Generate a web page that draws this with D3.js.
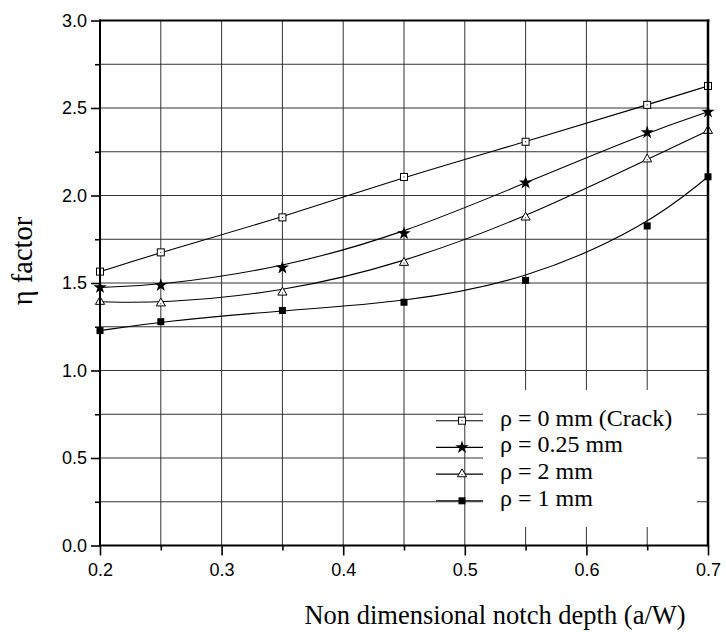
<!DOCTYPE html>
<html>
<head>
<meta charset="utf-8">
<script src="https://cdn.jsdelivr.net/npm/d3@7"></script>
<style>
  html, body { margin: 0; padding: 0; background: #fff; }
  svg { display: block; }
  .serif { font-family: "Liberation Serif", "Times New Roman", Times, serif; }
  .sans { font-family: "Liberation Sans", Arial, Helvetica, sans-serif; }
</style>
</head>
<body>
<svg id="chart" width="726" height="632"></svg>
<script>
// ---- data ----
const depth = [0.2, 0.25, 0.35, 0.45, 0.55, 0.65, 0.7];
const crack = [1.565, 1.675, 1.875, 2.106, 2.307, 2.518, 2.626];
const rho025 = [1.475, 1.487, 1.587, 1.784, 2.073, 2.36, 2.478];
const rho2 = [1.393, 1.384, 1.446, 1.616, 1.875, 2.207, 2.370];
const rho1 = [1.228, 1.279, 1.343, 1.39, 1.515, 1.826, 2.107];
const seriesNames = ["ρ = 0 mm (Crack)", "ρ = 0.25 mm", "ρ = 2 mm", "ρ = 1 mm"];
const seriesMarkers = ["openSquare", "star", "openTriangle", "filledSquare"];
const xTickLabels = ["0.2", "0.3", "0.4", "0.5", "0.6", "0.7"];
const yTickLabels = ["0.0", "0.5", "1.0", "1.5", "2.0", "2.5", "3.0"];
const xTitle = "Non dimensional notch depth (a/W)";
const yTitle = "η factor";

const seriesValues = [crack, rho025, rho2, rho1];

const svg = d3.select("#chart");
const L = 100, R = 708, T = 20.5, B = 545.5;
const x = d3.scaleLinear().domain([0.2, 0.7]).range([L, R]);
const y = d3.scaleLinear().domain([0, 3]).range([B, T]);

// grid
const grid = svg.append("g");
const xGrid = d3.range(0.25, 0.7, 0.05).map(v => +v.toFixed(2));
const yGrid = d3.range(0.25, 3.0, 0.25).map(v => +v.toFixed(2));
grid.selectAll("line.vx").data(xGrid).join("line")
  .attr("x1", d => x(d)).attr("x2", d => x(d))
  .attr("y1", T).attr("y2", B)
  .attr("stroke", "#333").attr("stroke-width", 1);
grid.selectAll("line.hy").data(yGrid).join("line")
  .attr("x1", L).attr("x2", R)
  .attr("y1", d => y(d)).attr("y2", d => y(d))
  .attr("stroke", "#333").attr("stroke-width", 1);

// legend background (covers grid)
svg.append("rect").attr("x", 483).attr("y", 390).attr("width", 214).attr("height", 137)
  .attr("fill", "#fff");

// curves (B-spline through the data points)
const line = d3.line().x(d => x(d[0])).y(d => y(d[1])).curve(d3.curveBasis);
seriesValues.forEach(vals => {
  svg.append("path")
    .attr("d", line(depth.map((d, i) => [d, vals[i]])))
    .attr("fill", "none").attr("stroke", "#000").attr("stroke-width", 1.1);
});

function drawMarker(g, type, cx, cy) {
  if (type === "openSquare") {
    g.append("rect").attr("x", cx - 3.5).attr("y", cy - 3.5).attr("width", 7).attr("height", 7)
      .attr("fill", "#fff").attr("stroke", "#000").attr("stroke-width", 1);
    g.append("rect").attr("x", cx - 0.5).attr("y", cy - 0.5).attr("width", 1).attr("height", 1).attr("fill", "#000");
  } else if (type === "filledSquare") {
    g.append("rect").attr("x", cx - 3.5).attr("y", cy - 3.5).attr("width", 7).attr("height", 7)
      .attr("fill", "#000");
  } else if (type === "openTriangle") {
    g.append("path").attr("d", d3.symbol(d3.symbolTriangle, 36)())
      .attr("transform", `translate(${cx},${cy})`)
      .attr("fill", "#fff").attr("stroke", "#000").attr("stroke-width", 1);
    g.append("rect").attr("x", cx - 0.5).attr("y", cy).attr("width", 1).attr("height", 1).attr("fill", "#000");
  } else if (type === "star") {
    g.append("path").attr("d", d3.symbol(d3.symbolStar, 55)())
      .attr("transform", `translate(${cx},${cy})`)
      .attr("fill", "#000");
  }
}

const markers = svg.append("g");
seriesValues.forEach((vals, si) => {
  depth.forEach((d, i) => drawMarker(markers, seriesMarkers[si], x(d), y(vals[i])));
});

// axes frame
const frame = svg.append("g").attr("stroke", "#000");
frame.append("line").attr("x1", L).attr("x2", L).attr("y1", T - 1).attr("y2", B + 1).attr("stroke-width", 2);
frame.append("line").attr("x1", L - 1).attr("x2", R + 1).attr("y1", B).attr("y2", B).attr("stroke-width", 2);
frame.append("line").attr("x1", L - 1).attr("x2", R + 1.5).attr("y1", T).attr("y2", T).attr("stroke-width", 2);
frame.append("line").attr("x1", R).attr("x2", R).attr("y1", T - 1).attr("y2", B + 1).attr("stroke-width", 2.5);

// y axis (ticks outward, left)
const yAxisMajor = d3.axisLeft(y).tickValues(yTickLabels.map(Number)).tickSize(9).tickSizeOuter(0)
  .tickFormat((d, i) => yTickLabels[i]).tickPadding(4);
const gy = svg.append("g").attr("transform", `translate(${L},0)`).call(yAxisMajor);
gy.attr("font-family", null).attr("font-size", null);
gy.select(".domain").remove();
gy.selectAll(".tick line").attr("stroke-width", 1.6);
gy.selectAll(".tick text").attr("class", "sans")
  .attr("font-size", 18).attr("fill", "#000");
const gyMinor = svg.append("g").attr("transform", `translate(${L},0)`)
  .call(d3.axisLeft(y).tickValues(d3.range(0.25, 3, 0.5)).tickSize(5).tickFormat(""));
gyMinor.select(".domain").remove();
gyMinor.selectAll(".tick line").attr("stroke-width", 1.6);

// x axis (ticks outward, bottom)
const xAxisMajor = d3.axisBottom(x).tickValues(xTickLabels.map(Number)).tickSize(10).tickSizeOuter(0)
  .tickFormat((d, i) => xTickLabels[i]).tickPadding(8);
const gx = svg.append("g").attr("transform", `translate(0,${B})`).call(xAxisMajor);
gx.attr("font-family", null).attr("font-size", null);
gx.select(".domain").remove();
gx.selectAll(".tick line").attr("stroke-width", 1.6);
gx.selectAll(".tick text").attr("class", "sans")
  .attr("font-size", 18).attr("fill", "#000");
const gxMinor = svg.append("g").attr("transform", `translate(0,${B})`)
  .call(d3.axisBottom(x).tickValues(d3.range(0.25, 0.7, 0.1).map(v => +v.toFixed(2))).tickSize(5).tickFormat(""));
gxMinor.select(".domain").remove();
gxMinor.selectAll(".tick line").attr("stroke-width", 1.6);

// titles
svg.append("text").attr("x", 495).attr("y", 624)
  .attr("text-anchor", "middle").attr("class", "serif").attr("font-size", 26.5)
  .text(xTitle);
svg.append("text").attr("transform", "translate(32,261) rotate(-90)")
  .attr("text-anchor", "middle").attr("class", "serif").attr("font-size", 28.5)
  .text(yTitle);

// legend
const legendRows = [420.7, 447.4, 474.1, 500.8];
const lg = svg.append("g");
seriesNames.forEach((name, i) => {
  const ry = legendRows[i];
  lg.append("line").attr("x1", 436).attr("x2", 483).attr("y1", ry).attr("y2", ry)
    .attr("stroke", "#000").attr("stroke-width", 1.1);
  drawMarker(lg, seriesMarkers[i], 462, ry);
  lg.append("text").attr("x", 500).attr("y", ry + 5)
    .attr("class", "serif").attr("font-size", 24)
    .text(name);
});
</script>
</body>
</html>
